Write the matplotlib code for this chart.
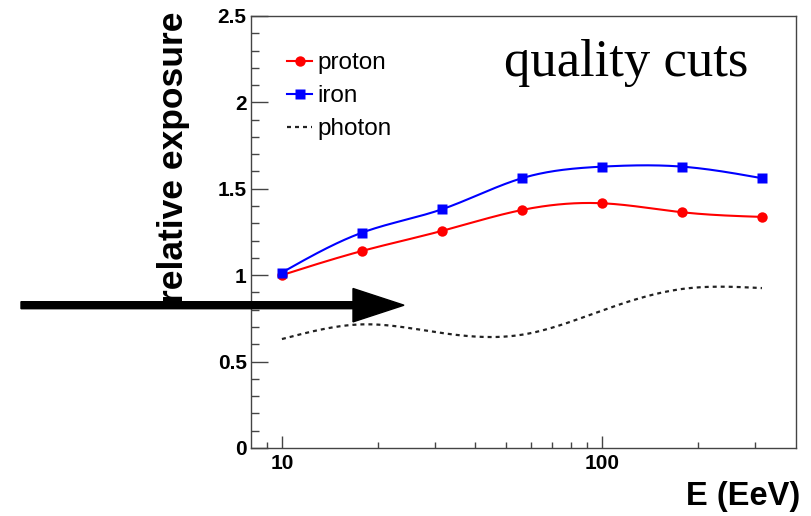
import numpy as np
import matplotlib.pyplot as plt
from matplotlib.patches import FancyArrow
from matplotlib.ticker import FixedLocator, NullFormatter

energy = [10, 17.8, 31.6, 56.2, 100, 178, 316]
proton = [1.00, 1.14, 1.256, 1.377, 1.416, 1.364, 1.337]
iron = [1.015, 1.246, 1.381, 1.561, 1.628, 1.628, 1.561]
photon = [0.63, 0.715, 0.665, 0.655, 0.795, 0.92, 0.925]

plt.rcParams['font.family'] = ['Liberation Sans', 'DejaVu Sans']


def smooth(x, y, n=300):
    # natural cubic spline in log(E), like ROOT's "C" draw option
    t = np.log10(x)
    y = np.asarray(y, float)
    k = len(t)
    h = np.diff(t)
    A = np.zeros((k, k))
    b = np.zeros(k)
    A[0, 0] = A[-1, -1] = 1
    for i in range(1, k - 1):
        A[i, i - 1] = h[i - 1]
        A[i, i] = 2 * (h[i - 1] + h[i])
        A[i, i + 1] = h[i]
        b[i] = 6 * ((y[i + 1] - y[i]) / h[i] - (y[i] - y[i - 1]) / h[i - 1])
    m = np.linalg.solve(A, b)
    tt = np.linspace(t[0], t[-1], n)
    j = np.clip(np.searchsorted(t, tt) - 1, 0, k - 2)
    d = tt - t[j]
    hj = h[j]
    yy = (m[j] * (t[j + 1] - tt) ** 3 / (6 * hj) + m[j + 1] * d ** 3 / (6 * hj)
          + (y[j] / hj - m[j] * hj / 6) * (t[j + 1] - tt)
          + (y[j + 1] / hj - m[j + 1] * hj / 6) * d)
    return 10 ** tt, yy


fig = plt.figure(figsize=(8.12, 5.16), dpi=100)
ax = fig.add_axes([0.309, 0.132, 0.671, 0.837])

xs, ys = smooth(energy, proton)
ax.plot(xs, ys, color='#ff0000', lw=1.5)
ax.plot(energy, proton, 'o', color='#ff0000', ms=7.5, mec='none')
xs, ys = smooth(energy, iron)
ax.plot(xs, ys, color='#0000ff', lw=1.5)
ax.plot(energy, iron, 's', color='#0000ff', ms=7.5, mec='none')
xs, ys = smooth(energy, photon)
ax.plot(xs, ys, color='#222222', lw=1.6, ls=(0, (1.8, 1.8)))

# legend handles
h1, = ax.plot([], [], '-o', color='#ff0000', lw=1.5, ms=7.5, mec='none')
h2, = ax.plot([], [], '-s', color='#0000ff', lw=1.5, ms=7.5, mec='none')
h3, = ax.plot([], [], color='#222222', lw=1.6, ls=(0, (1.8, 1.8)))
ax.legend([h1, h2, h3], ['proton', 'iron', 'photon'], loc='upper left',
          bbox_to_anchor=(0.066, 0.916), frameon=False, fontsize=17.5,
          handlelength=1.05, handletextpad=0.2, labelspacing=0.45,
          borderpad=0, borderaxespad=0)

ax.set_xscale('log')
ax.set_xlim(8, 403)
ax.set_ylim(0, 2.5)
ax.xaxis.set_major_locator(FixedLocator([10, 100]))
ax.xaxis.set_minor_locator(FixedLocator([9, 20, 30, 40, 50, 60, 70, 80, 90, 200, 300]))
ax.xaxis.set_minor_formatter(NullFormatter())
ax.set_xticklabels(['10', '100'])
ax.set_yticks([0, 0.5, 1, 1.5, 2, 2.5])
ax.set_yticklabels(['0', '0.5', '1', '1.5', '2', '2.5'])
ax.yaxis.set_minor_locator(FixedLocator(np.arange(0, 2.5, 0.1)))

ax.tick_params(axis='x', which='major', direction='in', length=8.5, width=1, color='#444444',
               pad=4.5, labelsize=15)
ax.tick_params(axis='x', which='minor', direction='in', length=4.3, width=1, color='#444444')
ax.tick_params(axis='y', which='major', direction='in', length=12, width=1, color='#444444',
               pad=3, labelsize=15)
ax.tick_params(axis='y', which='minor', direction='in', length=6, width=1, color='#444444')
for lab in ax.get_xticklabels() + ax.get_yticklabels():
    lab.set_fontweight('bold')
for s in ax.spines.values():
    s.set_color('#444444')
    s.set_linewidth(1.0)

ax.text(0.621 * 812, 516 - 76, 'quality cuts', transform=None,
        family=['Liberation Serif', 'DejaVu Serif'], fontsize=38, va='baseline', ha='left')

fig.text(0.214, 0.977, 'relative exposure', rotation=90, ha='center', va='top',
         fontsize=25.5, fontweight='bold')
fig.text(0.985, 0.037, 'E (EeV)', ha='right', va='center', fontsize=23.5, fontweight='bold')

arrow = FancyArrow(0.21, 2.108, 3.83, 0, width=0.07, head_width=0.334, head_length=0.51,
                   length_includes_head=True, color='black', transform=fig.dpi_scale_trans)
fig.add_artist(arrow)

fig.savefig('out.png', dpi=100)
